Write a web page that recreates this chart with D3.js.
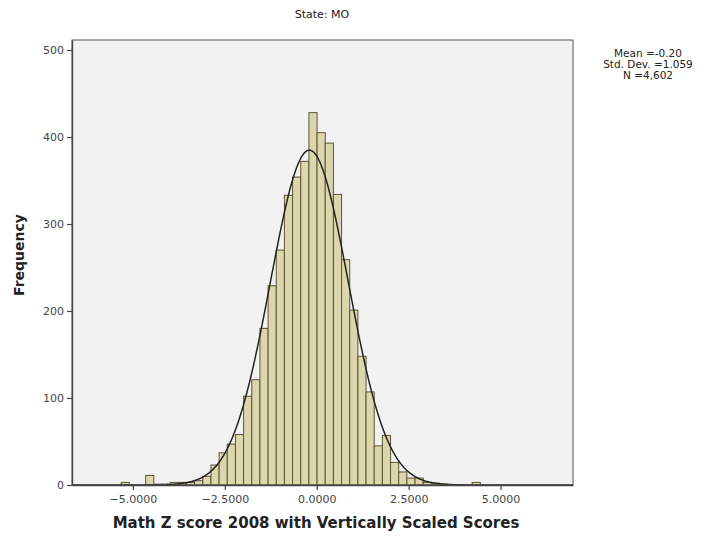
<!DOCTYPE html>
<html>
<head>
<meta charset="utf-8">
<script src="https://cdn.jsdelivr.net/npm/d3@7"></script>
<style>
  body { margin: 0; background: #fff; }
  svg { font-family: "DejaVu Sans", sans-serif; }
</style>
</head>
<body>
<svg id="chart" width="720" height="538"></svg>
<script>
// histogram bins: first lower edge + width, one count per bin
const binStart = -5.318
const binWidth = 0.222
const counts = [3, 0, 0, 11, 1, 1, 3, 3, 3, 5, 10, 23, 37, 47, 58, 102, 121, 180, 229, 270,
  333, 354, 372, 428, 405, 393, 334, 259, 201, 148, 107, 45, 57, 26, 15, 8, 8, 3, 2, 1,
  0, 0, 0, 3]
const xTicks = [-5, -2.5, 0, 2.5, 5]
const yTicks = [0, 100, 200, 300, 400, 500]
const stats = { mean: -0.2, sd: 1.059, n: 4602 }
const statLines = ['Mean =-0.20', 'Std. Dev. =1.059', 'N =4,602']

const svg = d3.select('#chart')
const plotLeft = 72, plotRight = 573, plotTop = 40, plotBottom = 485

const x = d3.scaleLinear().domain([-6.655, 6.97]).range([plotLeft, plotRight])
const y = d3.scaleLinear().domain([0, 511.5]).range([plotBottom, plotTop])

const bins = counts.map((c, i) => ({ x0: binStart + i * binWidth, x1: binStart + (i + 1) * binWidth, c }))

svg.append('rect')
  .attr('x', plotLeft).attr('y', plotTop)
  .attr('width', plotRight - plotLeft).attr('height', plotBottom - plotTop)
  .attr('fill', '#f2f2f2')

svg.append('g')
  .selectAll('rect')
  .data(bins.filter(d => d.c > 0))
  .enter()
  .append('rect')
  .attr('x', d => x(d.x0))
  .attr('y', d => y(d.c))
  .attr('width', d => x(d.x1) - x(d.x0))
  .attr('height', d => y(0) - y(d.c))
  .attr('fill', '#dcd6ad')
  .attr('stroke', '#5b5535')
  .attr('stroke-width', 1)

// fitted normal curve
const peak = stats.n * binWidth / (stats.sd * Math.sqrt(2 * Math.PI))
const curveXs = d3.range(x.domain()[0], x.domain()[1], 0.02)
const line = d3.line()
  .x(v => x(v))
  .y(v => y(peak * Math.exp(-0.5 * Math.pow((v - stats.mean) / stats.sd, 2))))
svg.append('path')
  .datum(curveXs)
  .attr('d', line)
  .attr('fill', 'none')
  .attr('stroke', '#222')
  .attr('stroke-width', 1.5)

// frame
svg.append('rect')
  .attr('x', plotLeft).attr('y', plotTop)
  .attr('width', plotRight - plotLeft).attr('height', plotBottom - plotTop)
  .attr('fill', 'none')
  .attr('stroke', '#555')
  .attr('stroke-width', 1)

const xAxis = svg.append('g')
  .attr('transform', `translate(0,${plotBottom})`)
  .call(d3.axisBottom(x).tickValues(xTicks).tickFormat(d3.format('.4f')).tickSize(5).tickSizeOuter(0))
const yAxis = svg.append('g')
  .attr('transform', `translate(${plotLeft},0)`)
  .call(d3.axisLeft(y).tickValues(yTicks).tickSize(5).tickSizeOuter(0))

;[xAxis, yAxis].forEach(a => {
  a.select('.domain').attr('stroke', '#444').attr('stroke-width', 1.4)
  a.selectAll('.tick line').attr('stroke', '#444').attr('stroke-width', 1.2)
  a.selectAll('.tick text').attr('fill', '#444').style('font-size', '11px')
    .style('font-family', '"DejaVu Sans", sans-serif')
})
xAxis.selectAll('.tick text').attr('dy', '0.9em')

svg.append('text')
  .attr('x', 322).attr('y', 18)
  .attr('text-anchor', 'middle')
  .attr('font-size', 11)
  .attr('fill', '#222')
  .text('State: MO')

svg.append('g')
  .selectAll('text')
  .data(statLines)
  .enter()
  .append('text')
  .attr('x', 648)
  .attr('y', (d, i) => 57 + i * 11)
  .attr('text-anchor', 'middle')
  .attr('font-size', 10.5)
  .attr('fill', '#222')
  .text(d => d)

svg.append('text')
  .attr('transform', 'translate(24,255) rotate(-90)')
  .attr('text-anchor', 'middle')
  .attr('font-size', 14)
  .attr('font-weight', 'bold')
  .attr('fill', '#222')
  .text('Frequency')

svg.append('text')
  .attr('x', 316).attr('y', 528)
  .attr('text-anchor', 'middle')
  .attr('font-size', 15)
  .attr('font-weight', 'bold')
  .attr('fill', '#222')
  .text('Math Z score 2008 with Vertically Scaled Scores')
</script>
</body>
</html>
